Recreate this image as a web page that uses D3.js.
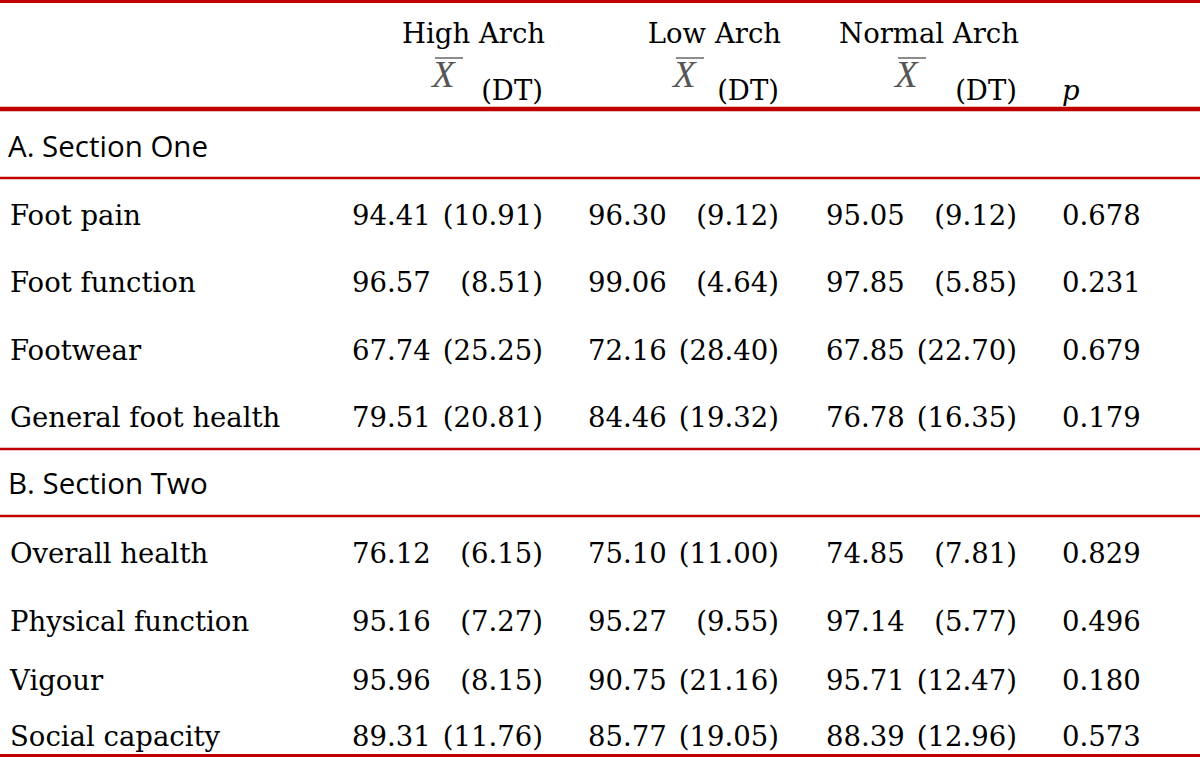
<!DOCTYPE html>
<html>
<head>
<meta charset="utf-8">
<script src="https://cdn.jsdelivr.net/npm/d3@7"></script>
<style>
    body { margin: 0; background: #fff; }
</style>
</head>
<body>
<div id="chart"></div>
<script>
// Table data
var categories = ['Foot pain', 'Foot function', 'Footwear', 'General foot health',
    'Overall health', 'Physical function', 'Vigour', 'Social capacity'];
var sections = ['A. Section One', 'B. Section Two'];
var groups = ['High Arch', 'Low Arch', 'Normal Arch'];

var highMean = [94.41, 96.57, 67.74, 79.51, 76.12, 95.16, 95.96, 89.31];
var highSD = [10.91, 8.51, 25.25, 20.81, 6.15, 7.27, 8.15, 11.76];
var lowMean = [96.30, 99.06, 72.16, 84.46, 75.10, 95.27, 90.75, 85.77];
var lowSD = [9.12, 4.64, 28.40, 19.32, 11.00, 9.55, 21.16, 19.05];
var normalMean = [95.05, 97.85, 67.85, 76.78, 74.85, 97.14, 95.71, 88.39];
var normalSD = [9.12, 5.85, 22.70, 16.35, 7.81, 5.77, 12.47, 12.96];
var pValues = [0.678, 0.231, 0.679, 0.179, 0.829, 0.496, 0.180, 0.573];

var w = 1200;
var h = 757;
var red = '#c00000';
var serif = '"DejaVu Serif", serif';
var fs = 27.5;

var svg = d3.select('#chart').append('svg')
    .attr('width', w)
    .attr('height', h)
;

// Scales (layout of rows and columns)
var rowY = d3.scaleOrdinal()
    .domain(categories)
    .range([225, 292, 360, 427, 563, 631, 690, 746])
;
var sectionY = d3.scaleOrdinal()
    .domain(sections)
    .range([157, 494])
;
var colX = d3.scaleOrdinal()
    .domain(groups)
    .range([543, 779, 1017])
;
var xbarX = d3.scaleOrdinal()
    .domain(groups)
    .range([432, 673, 895])
;
var pX = 1062;

var f2 = d3.format('.2f');
var f3 = d3.format('.3f');

// Rules
var rules = [
    { y: 1.5, sw: 3 },
    { y: 109, sw: 4.5 },
    { y: 178, sw: 2.5 },
    { y: 449, sw: 2.5 },
    { y: 516, sw: 2.5 },
    { y: 755.5, sw: 3 }
];
svg.selectAll('line.rule')
    .data(rules)
    .enter()
    .append('line')
    .attr('class', 'rule')
    .attr('x1', 0)
    .attr('x2', w)
    .attr('y1', function (d) { return d.y; })
    .attr('y2', function (d) { return d.y; })
    .attr('stroke', red)
    .attr('stroke-width', function (d) { return d.sw; })
;

// Header
var head = svg.append('g')
    .attr('font-family', serif)
    .attr('font-size', fs)
    .attr('fill', '#000')
;
head.selectAll('text.grp')
    .data(groups)
    .enter()
    .append('text')
    .attr('class', 'grp')
    .attr('x', function (d) { return colX(d) + 2; })
    .attr('y', 43)
    .attr('text-anchor', 'end')
    .text(function (d) { return d; })
;
head.selectAll('text.dt')
    .data(groups)
    .enter()
    .append('text')
    .attr('class', 'dt')
    .attr('x', function (d) { return colX(d); })
    .attr('y', 100)
    .attr('text-anchor', 'end')
    .text('(DT)')
;
head.selectAll('text.xbar')
    .data(groups)
    .enter()
    .append('text')
    .attr('class', 'xbar')
    .attr('x', function (d) { return xbarX(d); })
    .attr('y', 87)
    .attr('font-family', '"Liberation Serif", serif')
    .attr('font-style', 'italic')
    .attr('font-size', 37)
    .attr('fill', '#555')
    .text('X')
;
head.selectAll('line.bar')
    .data(groups)
    .enter()
    .append('line')
    .attr('class', 'bar')
    .attr('x1', function (d) { return xbarX(d) + 3; })
    .attr('x2', function (d) { return xbarX(d) + 31; })
    .attr('y1', 58)
    .attr('y2', 58)
    .attr('stroke', '#666')
    .attr('stroke-width', 1.5)
;
head.append('text')
    .attr('x', pX)
    .attr('y', 100)
    .attr('font-style', 'italic')
    .text('p')
;

// Section labels
svg.selectAll('text.section')
    .data(sections)
    .enter()
    .append('text')
    .attr('class', 'section')
    .attr('x', 8)
    .attr('y', function (d) { return sectionY(d); })
    .attr('font-family', '"Open Sans", sans-serif')
    .attr('font-size', 29.5)
    .attr('fill', '#000')
    .text(function (d) { return d; })
;

// Body
var body = svg.append('g')
    .attr('font-family', serif)
    .attr('font-size', fs)
    .attr('fill', '#000')
;

// measure width of a two-digit SD to align the means
var probe = body.append('text').text('(10.91)');
var sdW = probe.node().getComputedTextLength();
probe.remove();
var gap = 12;

body.selectAll('text.cat')
    .data(categories)
    .enter()
    .append('text')
    .attr('class', 'cat')
    .attr('x', 10)
    .attr('y', function (d) { return rowY(d); })
    .text(function (d) { return d; })
;

var cols = [
    { g: 'High Arch', mean: highMean, sd: highSD },
    { g: 'Low Arch', mean: lowMean, sd: lowSD },
    { g: 'Normal Arch', mean: normalMean, sd: normalSD }
];

cols.forEach(function (c) {
    body.selectAll('text.mean-' + c.g.replace(' ', ''))
        .data(c.mean)
        .enter()
        .append('text')
        .attr('x', colX(c.g) - sdW - gap)
        .attr('y', function (d, i) { return rowY(categories[i]); })
        .attr('text-anchor', 'end')
        .text(function (d) { return f2(d); })
    ;
    body.selectAll('text.sd-' + c.g.replace(' ', ''))
        .data(c.sd)
        .enter()
        .append('text')
        .attr('x', colX(c.g))
        .attr('y', function (d, i) { return rowY(categories[i]); })
        .attr('text-anchor', 'end')
        .text(function (d) { return '(' + f2(d) + ')'; })
    ;
});

body.selectAll('text.pval')
    .data(pValues)
    .enter()
    .append('text')
    .attr('class', 'pval')
    .attr('x', pX)
    .attr('y', function (d, i) { return rowY(categories[i]); })
    .text(function (d) { return f3(d); })
;
</script>
</body>
</html>
